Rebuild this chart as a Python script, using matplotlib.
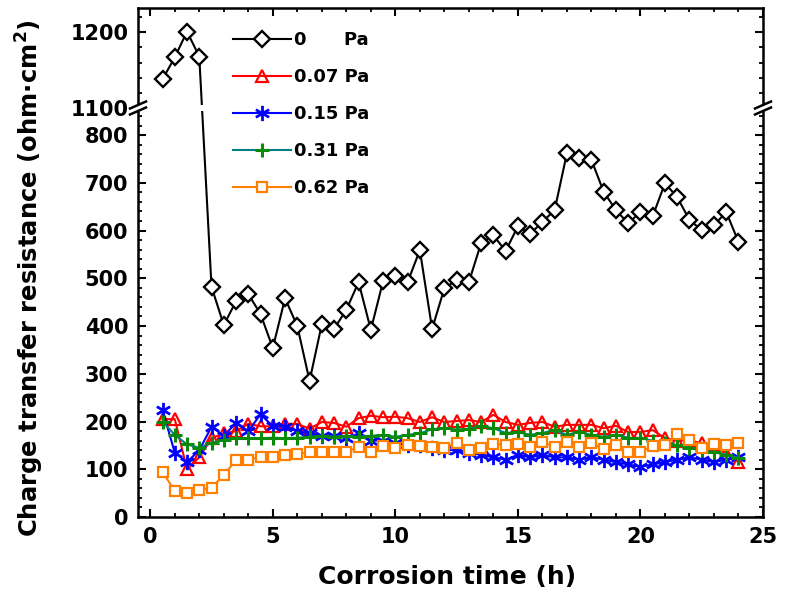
import matplotlib
matplotlib.use("Agg")
import numpy as np
import matplotlib.pyplot as plt
from matplotlib.ticker import MultipleLocator, FixedLocator
from matplotlib.path import Path
from matplotlib.lines import Line2D
from matplotlib.patches import Polygon, Rectangle

plt.rcParams['font.family'] = ['DejaVu Sans']
plt.rcParams['font.weight'] = 'bold'
plt.rcParams['mathtext.default'] = 'bf'

# ---------------- data ----------------
time_h = [0.5, 1.0, 1.5, 2.0, 2.5, 3.0, 3.5, 4.0, 4.5, 5.0, 5.5, 6.0,
          6.5, 7.0, 7.5, 8.0, 8.5, 9.0, 9.5, 10.0, 10.5, 11.0, 11.5, 12.0,
          12.5, 13.0, 13.5, 14.0, 14.5, 15.0, 15.5, 16.0, 16.5, 17.0, 17.5, 18.0,
          18.5, 19.0, 19.5, 20.0, 20.5, 21.0, 21.5, 22.0, 22.5, 23.0, 23.5, 24.0]

r_0pa = [1138, 1167, 1201, 1168, 482, 402, 452, 467, 425, 354, 458, 400,
         285, 404, 394, 434, 492, 392, 494, 505, 492, 559, 394, 479,
         496, 492, 574, 590, 557, 609, 593, 618, 643, 762, 752, 748,
         681, 643, 615, 639, 630, 699, 670, 622, 601, 611, 639, 576]

r_007pa = [205, 205, 100, 125, 165, 175, 180, 195, 190, 190, 195, 195,
           185, 199, 197, 189, 207, 212, 209, 210, 207, 199, 209, 199,
           201, 203, 199, 214, 199, 193, 197, 199, 189, 193, 193, 193,
           186, 191, 178, 178, 182, 165, 160, 160, 155, 150, 135, 115]

r_015pa = [224, 135, 115, 140, 189, 170, 197, 180, 215, 190, 189, 180,
           175, 170, 170, 165, 175, 160, 160, 155, 150, 150, 145, 140,
           140, 135, 130, 125, 120, 130, 125, 130, 125, 125, 120, 125,
           120, 115, 110, 105, 110, 115, 120, 125, 120, 115, 120, 125]

r_031pa = [200, 172, 152, 145, 155, 162, 165, 165, 165, 166, 165, 166,
           168, 170, 168, 170, 168, 170, 172, 168, 172, 175, 184, 186,
           183, 185, 190, 186, 176, 178, 172, 176, 182, 172, 178, 172,
           168, 172, 166, 165, 160, 155, 151, 145, 140, 136, 130, 124]

r_062pa = [94, 55, 50, 57, 61, 88, 119, 120, 126, 126, 130, 132,
           136, 136, 136, 136, 147, 136, 149, 145, 151, 149, 147, 145,
           155, 140, 145, 153, 151, 153, 147, 157, 147, 157, 147, 155,
           142, 151, 136, 136, 149, 151, 174, 161, 145, 153, 151, 155]

labels = ["0      Pa", "0.07 Pa", "0.15 Pa", "0.31 Pa", "0.62 Pa"]
x_ticks = [0, 5, 10, 15, 20, 25]
y_major = [0, 100, 200, 300, 400, 500, 600, 700, 800, 1100, 1200]

# broken-axis scale: 0..856 linear, 856..1100 collapsed, 1100..1232 stretched
B0, B1, EPS, K = 856.0, 1100.0, 0.001, 1.59
SB = B0 + (B1 - B0) * EPS


def fwd(y):
    y = np.asarray(y, dtype=float)
    return np.where(y <= B0, y,
                    np.where(y < B1, B0 + (y - B0) * EPS, SB + (y - B1) * K))


def inv(s):
    s = np.asarray(s, dtype=float)
    return np.where(s <= B0, s,
                    np.where(s < SB, B0 + (s - B0) / EPS, B1 + (s - SB) / K))


# asterisk marker (6 arms)
ast_verts = [(0, -1), (0, 1), (-0.87, -0.5), (0.87, 0.5), (-0.87, 0.5), (0.87, -0.5)]
ast_codes = [Path.MOVETO, Path.LINETO] * 3
asterisk = Path(ast_verts, ast_codes)

styles = [
    dict(color='black', marker='D', ms=8, mfc='white', mec='black', mew=1.7),
    dict(color='#ff0000', marker='^', ms=9, mfc='none', mec='#ff0000', mew=1.6),
    dict(color='#0000ff', marker=asterisk, ms=11, mfc='none', mec='#0000ff', mew=2.0),
    dict(color='#008080', marker='+', ms=10, mfc='none', mec='#0a8a0a', mew=2.2),
    dict(color='#ff8000', marker='s', ms=7, mfc='white', mec='#ff8000', mew=1.6),
]
series = [r_0pa, r_007pa, r_015pa, r_031pa, r_062pa]

W_PX, H_PX = 785, 602
fig = plt.figure(figsize=(W_PX / 100, H_PX / 100), dpi=100)

left_px, right_px = 138, 763
top_px, break_px, bottom_px = 8, 108, 517


def fx(px):
    return px / W_PX


def fy(py):
    return 1 - py / H_PX


ax = fig.add_axes([fx(left_px), fy(bottom_px), (right_px - left_px) / W_PX,
                   (bottom_px - top_px) / H_PX])
ax.set_yscale('function', functions=(fwd, inv))

handles = []
for ys, st, lab in zip(series, styles, labels):
    h, = ax.plot(time_h, ys, lw=1.5, label=lab, **st)
    handles.append(h)

ax.set_xlim(-0.5, 25)
ax.set_ylim(0, 1232)
ax.set_xticks(x_ticks)
ax.xaxis.set_minor_locator(MultipleLocator(1))
ax.yaxis.set_major_locator(FixedLocator(y_major))
y_minor = [v for v in range(20, 860, 20) if v % 100] + \
          [v for v in range(1120, 1232, 20) if v % 100]
ax.yaxis.set_minor_locator(FixedLocator(y_minor))
for s in ax.spines.values():
    s.set_linewidth(1.8)
ax.tick_params(which='major', direction='in', length=6, width=1.5,
               labelsize=15, right=True, top=True, pad=7)
ax.tick_params(which='minor', direction='in', length=3, width=1.3,
               right=True, top=True)
for t in ax.get_yticklabels() + ax.get_xticklabels():
    t.set_fontweight('bold')

# gap at the axis break
fig.add_artist(Rectangle((fx(left_px - 2), fy(break_px + 3)),
                         (right_px - left_px + 4) / W_PX, 6 / H_PX,
                         transform=fig.transFigure, facecolor='white',
                         edgecolor='none', zorder=4))
for xb in (left_px, right_px):
    for dy in (-3, 3):
        fig.add_artist(Line2D([fx(xb - 8), fx(xb + 8)],
                              [fy(break_px + dy + 3.5), fy(break_px + dy - 3.5)],
                              transform=fig.transFigure, color='black', lw=1.8,
                              zorder=11))

fig.text(fx(447), fy(577), "Corrosion time (h)", ha='center', va='center',
         fontsize=18, fontweight='bold')
fig.text(fx(30), fy(278), "Charge transfer resistance (ohm\u00b7cm$^{2}$)",
         rotation=90, ha='center', va='center', fontsize=17.5, fontweight='bold')

leg = fig.legend(handles=handles, loc='upper left',
                 bbox_to_anchor=(fx(233), fy(31)), bbox_transform=fig.transFigure,
                 frameon=False, fontsize=13, handlelength=3.2, handletextpad=0.2,
                 labelspacing=1.05, borderpad=0, borderaxespad=0, numpoints=1)
leg.set_zorder(12)
for t in leg.get_texts():
    t.set_fontweight('bold')

fig.savefig("out.png", dpi=100)
